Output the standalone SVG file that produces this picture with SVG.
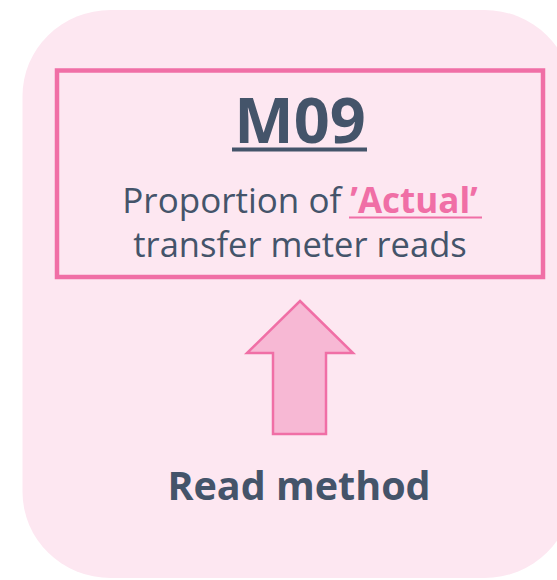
<svg xmlns="http://www.w3.org/2000/svg" width="557" height="580" viewBox="0 0 557 580">
<style>
.t{font-family:"Open Sans","Noto Sans","Liberation Sans",sans-serif;fill:#44546A;text-anchor:middle}
.b{font-weight:bold}
.pk{fill:#F06FA6;font-weight:bold}
</style>
<rect width="557" height="580" fill="#FFFFFF"/>
<g id="panel">
<rect x="22.5" y="10" width="550" height="568" rx="88" ry="86" fill="#FDE7F1"/>
</g>
<g id="m09-box">
<rect x="57" y="70.5" width="486" height="206.5" fill="none" stroke="#F06FA6" stroke-width="4.5"/>
<text class="t b" x="300" y="143" font-size="63">M09</text>
<rect x="232" y="147.5" width="135" height="4" fill="#44546A"/>
<text class="t" x="300" y="213" font-size="35">Proportion of <tspan class="pk">’Actual’</tspan></text>
<rect x="349" y="216.5" width="133" height="2" fill="#F06FA6"/>
<text class="t" x="300" y="257" font-size="34.5">transfer meter reads</text>
</g>
<g id="connectors">
<path d="M300,301 L353,353 L326,353 L326,434 L273,434 L273,353 L247,353 Z" fill="#F7B8D4" stroke="#F06FA6" stroke-width="2.5" stroke-linejoin="miter"/>
</g>
<g id="read-method">
<text class="t b" x="299" y="500" font-size="39.5">Read method</text>
</g>
</svg>
